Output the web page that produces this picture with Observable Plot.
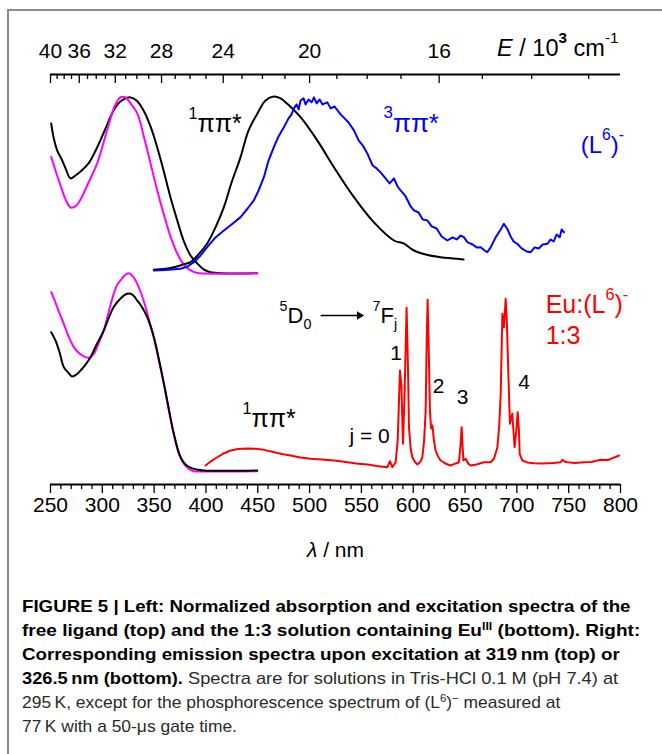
<!DOCTYPE html>
<html><head><meta charset="utf-8">
<script src="https://cdn.jsdelivr.net/npm/d3@7"></script>
<script src="https://cdn.jsdelivr.net/npm/@observablehq/plot@0.6"></script>
<style>
html,body{margin:0;padding:0;background:#fff;}
#page{position:relative;width:662px;height:754px;overflow:hidden;font-family:"Liberation Sans",Arial,sans-serif;}
#frame{position:absolute;left:7px;top:9px;width:720px;height:800px;border-left:2px solid #8a8a8a;border-top:2px solid #8a8a8a;}
#chart{position:absolute;left:0;top:0;}
#caption{position:absolute;left:22px;top:595px;font-family:"Liberation Sans Narrow","Liberation Sans",Arial,sans-serif;font-size:17px;line-height:24px;color:#2a2a2a;}
#caption .ln{white-space:nowrap;transform-origin:0 50%;height:24px;}
#caption b{color:#000;}
#caption sup{font-size:0.65em;line-height:0;vertical-align:0.55em;}
</style></head><body>
<div id="page">
<div id="frame"></div>
<div id="chart"></div>
<div id="caption">
<div class="ln" data-w="609"><span><b>FIGURE 5 | Left: Normalized absorption and excitation spectra of the</b></span></div>
<div class="ln" data-w="618"><span><b>free ligand (top) and the 1:3 solution containing Eu<sup>III</sup> (bottom). Right:</b></span></div>
<div class="ln" data-w="598"><span><b>Corresponding emission spectra upon excitation at 319&#8201;nm (top) or</b></span></div>
<div class="ln" data-w="596"><span><b>326.5&#8201;nm (bottom).</b> Spectra are for solutions in Tris-HCl 0.1 M (pH 7.4) at</span></div>
<div class="ln" data-w="538"><span>295&#8201;K, except for the phosphorescence spectrum of (L<sup>6</sup>)<sup>−</sup> measured at</span></div>
<div class="ln"><span>77&#8201;K with a 50-μs gate time.</span></div>
</div>
</div>
<script>
// ---------- axis ticks ----------
const lamMajor = [250, 300, 350, 400, 450, 500, 550, 600, 650, 700, 750, 800];
const lamMinor = d3.range(260, 800, 10).filter(d => d % 50 !== 0);
const eMajor = [40, 36, 32, 28, 24, 20, 16];
const eMinor = [39, 38, 37, 35, 34, 33, 31, 30, 29, 27, 26, 25, 23, 22, 21, 19, 18, 17, 15, 14, 13];

// ---------- top group: free ligand (L6)- ----------
const topOffset = 1.157;
const lamAbsTop = [250.7, 253.2, 256.5, 261.3, 264.5, 269.3, 274.1, 279, 286.7, 295, 303.1, 310.8, 317.6, 327.2, 333, 339.8, 346.5, 353, 359.1, 365.8, 372.3, 378.4, 385.1, 391.6, 397.7, 404.4, 449.5];
const absTop    = [0.860, 0.773, 0.703, 0.645, 0.599, 0.541, 0.558, 0.581, 0.628, 0.721, 0.831, 0.936, 0.988, 1.012, 0.994, 0.936, 0.843, 0.721, 0.587, 0.430, 0.297, 0.180, 0.093, 0.047, 0.012, -0.004, -0.010];

const lamExcTop = [250.7, 254.8, 259.7, 264.5, 269.3, 274.1, 279, 286.7, 295, 301.2, 306, 311.8, 317.6, 322.4, 327.2, 333.7, 339.8, 346.5, 353, 359.1, 365.8, 372.3, 378.4, 385.1, 391.9, 397.7, 449.5];
const excTop    = [0.665, 0.587, 0.500, 0.419, 0.372, 0.378, 0.419, 0.517, 0.628, 0.750, 0.849, 0.959, 1.013, 1.012, 0.977, 0.919, 0.791, 0.628, 0.471, 0.337, 0.203, 0.105, 0.041, 0.006, -0.009, -0.012, -0.010];

const lamFluoTop = [349.7, 365.8, 378.4, 385.1, 392.8, 401.2, 409.2, 417.3, 424.7, 433.4, 441.1, 449.5, 457.5, 465.5, 472, 478.5, 491.3, 507.4, 523.5, 542.8, 562.1, 581.4, 590.7, 600.7, 612, 626.4, 638, 648.6];
const fluoTop    = [0.010, 0.020, 0.041, 0.054, 0.099, 0.163, 0.256, 0.374, 0.517, 0.665, 0.820, 0.917, 0.994, 1.017, 1.006, 0.975, 0.897, 0.762, 0.606, 0.432, 0.285, 0.180, 0.163, 0.122, 0.099, 0.083, 0.076, 0.070];

const lamPhosTop = [349.7, 361, 375.5, 382.3, 388.3, 394.8, 401.2, 409.2, 417.3, 424.7, 433.4, 440.2, 446.2, 450.8, 455.9, 460.4, 465.5, 470, 475.2, 479.7, 482.6, 484.8, 487.5, 489.4, 491.3, 494.2, 496.1, 499, 501.9, 504.2, 506.8, 509.7, 512.5, 517.1, 520.3, 524.1, 529.9, 533.8, 537.6, 542.8, 547.3, 551.2, 555.7, 560.8, 564.7, 568.5, 573.3, 577.2, 581.4, 584.9, 587.8, 592.7, 597.5, 600.7, 605.2, 609.1, 613.6, 617.8, 622.6, 627.4, 632.9, 638, 641.9, 645.8, 648.9, 652.5, 657.3, 661.2, 665.1, 668.9, 671.5, 674.7, 679.5, 684.4, 687.5, 691.1, 694, 696.9, 700.4, 704.6, 709.5, 713.3, 717.2, 721.1, 725, 729.5, 732.6, 735.5, 738.4, 741.3, 743.2, 745.5];
const phosTop    = [0.006, 0.009, 0.016, 0.029, 0.054, 0.093, 0.141, 0.198, 0.238, 0.273, 0.316, 0.366, 0.413, 0.471, 0.548, 0.645, 0.723, 0.785, 0.839, 0.890, 0.913, 0.948, 0.971, 0.942, 0.994, 1.006, 0.971, 1.000, 0.983, 1.012, 0.977, 1.000, 0.971, 0.983, 0.948, 0.959, 0.913, 0.890, 0.866, 0.820, 0.762, 0.733, 0.686, 0.616, 0.599, 0.576, 0.541, 0.512, 0.541, 0.494, 0.471, 0.436, 0.378, 0.355, 0.343, 0.302, 0.297, 0.262, 0.250, 0.203, 0.180, 0.198, 0.186, 0.209, 0.199, 0.169, 0.157, 0.140, 0.141, 0.122, 0.112, 0.140, 0.198, 0.244, 0.277, 0.244, 0.203, 0.174, 0.161, 0.134, 0.116, 0.112, 0.140, 0.134, 0.157, 0.161, 0.186, 0.174, 0.215, 0.198, 0.244, 0.228];

// ---------- bottom group: Eu:(L6)- 1:3 ----------
const lamAbsEu = [250.7, 254.8, 258.8, 262.8, 267, 271, 275, 279, 283.8, 288.6, 295, 301.4, 306, 311, 317.6, 324, 329, 333.7, 338.5, 343.3, 349.7, 356.2, 362.6, 369, 375.5, 380.3, 385, 391, 398, 449.5];
const absEu    = [0.804, 0.756, 0.686, 0.601, 0.570, 0.547, 0.558, 0.581, 0.616, 0.659, 0.738, 0.814, 0.884, 0.950, 1.000, 1.027, 1.023, 0.988, 0.948, 0.891, 0.775, 0.601, 0.407, 0.213, 0.077, 0.035, 0.017, 0.006, 0, 0];

const lamExcEu = [250.7, 254, 258, 262.8, 267.5, 272.5, 278, 283.8, 288, 291.8, 296, 301.4, 306, 311, 314.5, 317.6, 321.5, 325.6, 329.5, 333.7, 337.5, 341.7, 345.5, 349.7, 354.5, 359.4, 364, 369, 373.5, 378.7, 383.5, 388.3, 393, 449.5];
const excEu    = [1.037, 0.988, 0.924, 0.853, 0.779, 0.717, 0.680, 0.659, 0.657, 0.678, 0.733, 0.814, 0.919, 1.027, 1.081, 1.105, 1.134, 1.147, 1.128, 1.085, 1.029, 0.950, 0.866, 0.775, 0.640, 0.504, 0.355, 0.213, 0.105, 0.039, 0.009, -0.004, -0.006, -0.004];

const lamEmEu = [399.6, 405, 410.9, 417, 423.7, 431, 439.9, 448, 455.9, 465, 473, 481.7, 491, 501, 512, 523.5, 535, 545, 555.7, 565, 575, 577.5, 579.8, 583, 585, 587.2, 588.6, 590.1, 591.5, 593.6, 595, 595.9, 597.5, 599.1, 602, 604, 607, 608.8, 610.5, 612, 613, 613.9, 614.8, 616.1, 617.3, 618.5, 620, 621.6, 624, 626.4, 631, 636.1, 641, 644.1, 645.6, 646.7, 647.6, 648.4, 650.6, 653, 655.4, 661, 668.3, 674.7, 678, 681.2, 683, 684.4, 686, 687.5, 689.2, 690.3, 691.4, 693.3, 695.6, 697.8, 699.5, 700.8, 702, 702.7, 705.3, 710, 716.5, 725, 735, 742.3, 743.9, 746, 748.7, 756, 764.8, 772, 780.9, 788, 793, 798.6];
const emEu    = [0.029, 0.055, 0.077, 0.099, 0.116, 0.125, 0.128, 0.126, 0.120, 0.108, 0.096, 0.087, 0.076, 0.068, 0.064, 0.058, 0.049, 0.041, 0.035, 0.026, 0.019, 0.054, 0.019, 0.047, 0.174, 0.581, 0.494, 0.155, 0.407, 0.946, 0.581, 0.252, 0.128, 0.077, 0.047, 0.035, 0.052, 0.077, 0.174, 0.349, 0.756, 0.992, 0.756, 0.349, 0.244, 0.262, 0.174, 0.116, 0.081, 0.058, 0.041, 0.029, 0.041, 0.048, 0.145, 0.252, 0.145, 0.058, 0.068, 0.041, 0.029, 0.035, 0.048, 0.048, 0.070, 0.135, 0.262, 0.446, 0.911, 0.833, 0.998, 0.872, 0.640, 0.272, 0.330, 0.135, 0.233, 0.339, 0.233, 0.097, 0.058, 0.047, 0.042, 0.041, 0.044, 0.048, 0.062, 0.052, 0.048, 0.044, 0.048, 0.049, 0.062, 0.061, 0.073, 0.087];

// ---------- annotations (x in nm, y in plot units) ----------
const labelsBlackBig = [
  {x: 383.2, y: 1.965, t: "^{1}ππ*"},
  {x: 435.3, y: 0.250, t: "^{1}ππ*"}
];
const labelsBlue = [
  {x: 571.4, y: 1.965, t: "^{3}ππ*", s: 26},
  {x: 761.6, y: 1.843, t: "(L^{6})^{-}", s: 24}
];
const labelsRed = [
  {x: 727.8, y: 0.913, t: "Eu:(L^{6})^{-}"},
  {x: 727.8, y: 0.738, t: "1:3"}
];
const labelsTransition = [
  {x: 471.0, y: 0.855, t: "^{5}D_{0}"},
  {x: 560.8, y: 0.855, t: "^{7}F_{j}"}
];
const labelsJ = [
  {x: 583.5, y: 0.640, t: "1"},
  {x: 624.5, y: 0.453, t: "2"},
  {x: 647.7, y: 0.388, t: "3"},
  {x: 707.0, y: 0.475, t: "4"},
  {x: 557.9, y: 0.159, t: "j = 0"}
];
const arrowSpec = [{x1: 510.6, x2: 548.0, y: 0.901}];

const pts = (lams, vals, off = 0) => lams.map((x, i) => ({x, y: vals[i] + off}));

const yDomain = [-0.0814, 2.302];
const lineW = 2;

const plot = Plot.plot({
  width: 662, height: 570,
  marginLeft: 50, marginRight: 42, marginTop: 74, marginBottom: 86,
  x: {domain: [250, 800], axis: null},
  y: {domain: yDomain, axis: null},
  style: {fontFamily: "'Liberation Sans', Arial, sans-serif", background: "transparent", color: "black", overflow: "visible"},
  marks: [
    // axes
    Plot.ruleY(yDomain, {stroke: "black", strokeWidth: 2}),
    Plot.axisX({anchor: "bottom", ticks: lamMajor, tickFormat: d => String(d), tickSize: 9, tickPadding: 4, fontSize: 21, strokeWidth: 1.3, label: null}),
    Plot.axisX({anchor: "bottom", ticks: lamMinor, tickFormat: () => "", tickSize: 5, strokeWidth: 1.3, label: null}),
    Plot.tickX(eMajor, {x: e => 10000 / e, insetBottom: 410 - 9, stroke: "black", strokeWidth: 1.3}),
    Plot.tickX(eMinor, {x: e => 10000 / e, insetBottom: 410 - 5, stroke: "black", strokeWidth: 1.3}),
    Plot.text(eMajor, {x: e => 10000 / e, text: e => String(e), frameAnchor: "top", dy: -17, lineAnchor: "bottom", fontSize: 21, fill: "black"}),
    Plot.text(["%{E} / 10#{3} cm^{-1}"], {frameAnchor: "top-right", text: d => d, textAnchor: "end", lineAnchor: "bottom", dx: -2, dy: -19, fontSize: 23.5, fill: "black"}),
    Plot.text(["%{λ} / nm"], {frameAnchor: "bottom", text: d => d, lineAnchor: "bottom", dy: 72, fontSize: 21, fill: "black"}),
    // top group
    Plot.line(pts(lamAbsTop, absTop, topOffset), {x: "x", y: "y", stroke: "black", strokeWidth: lineW, curve: "catmull-rom"}),
    Plot.line(pts(lamExcTop, excTop, topOffset), {x: "x", y: "y", stroke: "#ff00ff", strokeWidth: lineW, curve: "catmull-rom"}),
    Plot.line(pts(lamFluoTop, fluoTop, topOffset), {x: "x", y: "y", stroke: "black", strokeWidth: lineW, curve: "catmull-rom"}),
    Plot.line(pts(lamPhosTop, phosTop, topOffset), {x: "x", y: "y", stroke: "#0000ff", strokeWidth: lineW}),
    // bottom group
    Plot.line(pts(lamExcEu, excEu), {x: "x", y: "y", stroke: "#ff00ff", strokeWidth: lineW, curve: "catmull-rom"}),
    Plot.line(pts(lamAbsEu, absEu), {x: "x", y: "y", stroke: "black", strokeWidth: lineW, curve: "catmull-rom"}),
    Plot.line(pts(lamEmEu, emEu), {x: "x", y: "y", stroke: "#ff0000", strokeWidth: lineW}),
    // annotations
    Plot.text(labelsBlackBig, {x: "x", y: "y", text: "t", fontSize: 25, textAnchor: "start", lineAnchor: "bottom", fill: "black"}),
    Plot.text(labelsBlue, {x: "x", y: "y", text: "t", fontSize: "s", textAnchor: "start", lineAnchor: "bottom", fill: "#0000ff"}),
    Plot.text(labelsRed, {x: "x", y: "y", text: "t", fontSize: 25, textAnchor: "start", lineAnchor: "bottom", fill: "#ff0000"}),
    Plot.text(labelsTransition, {x: "x", y: "y", text: "t", fontSize: 22, textAnchor: "start", lineAnchor: "bottom", fill: "black"}),
    Plot.text(labelsJ, {x: "x", y: "y", text: "t", fontSize: 21, textAnchor: "middle", lineAnchor: "bottom", fill: "black"}),
    Plot.link(arrowSpec, {x1: "x1", x2: "x2", y1: "y", y2: "y", stroke: "black", strokeWidth: 1.3}),
    Plot.dot(arrowSpec, {x: "x2", y: "y", symbol: "triangle2", r: 4, rotate: 90, fill: "black", stroke: "none"})
  ]
});

document.getElementById("chart").appendChild(plot);

// rich text: ^{sup}, #{bold sup}, _{sub}, %{italic}
const NS = "http://www.w3.org/2000/svg";
plot.querySelectorAll("text").forEach(el => {
  const s = el.textContent;
  if (!/[\^_%#]\{/.test(s)) return;
  const fs = parseFloat(getComputedStyle(el).fontSize) || 20;
  el.textContent = "";
  const re = /([\^_%#])\{([^}]*)\}|([^\^_%#]+)/g;
  let m, shift = 0;
  while ((m = re.exec(s))) {
    const t = document.createElementNS(NS, "tspan");
    let target = 0;
    if (m[3] !== undefined) {
      t.textContent = m[3];
    } else if (m[1] === "^" || m[1] === "#") {
      t.textContent = m[2]; t.setAttribute("font-size", (fs * 0.65).toFixed(1)); target = -fs * 0.55;
      if (m[1] === "#") t.setAttribute("font-weight", "bold");
    } else if (m[1] === "_") {
      t.textContent = m[2]; t.setAttribute("font-size", (fs * 0.65).toFixed(1)); target = fs * 0.24;
    } else {
      t.textContent = m[2]; t.setAttribute("font-style", "italic");
    }
    const dy = target - shift;
    if (Math.abs(dy) > 0.01) t.setAttribute("dy", dy.toFixed(2));
    shift = target;
    el.appendChild(t);
  }
});

// fit caption lines to the reference widths (offsetWidth ignores transforms)
function fitCaption() {
  let last = 1;
  document.querySelectorAll("#caption .ln").forEach(ln => {
    const w = ln.querySelector("span").offsetWidth;
    const target = +ln.dataset.w;
    const k = target && w ? target / w : last;
    ln.style.transform = `scaleX(${k})`;
    last = k;
  });
}
fitCaption();
if (document.fonts && document.fonts.ready) document.fonts.ready.then(fitCaption);
</script>
</body></html>
